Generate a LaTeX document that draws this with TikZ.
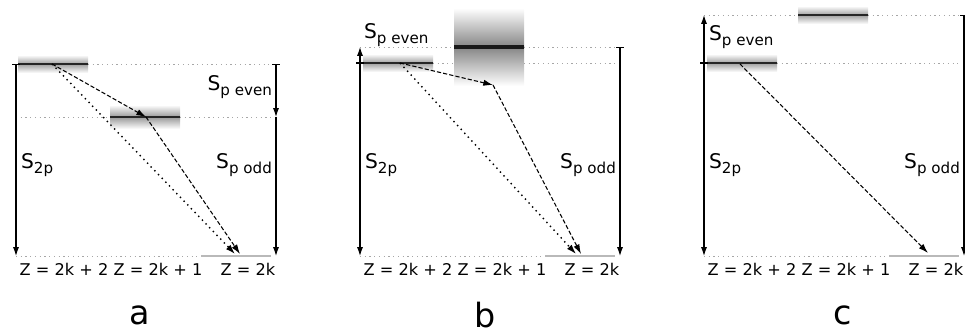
\documentclass[tikz,border=0pt]{standalone}
\usepackage{fontspec}
\setmainfont{DejaVu Sans}
\usepackage{tikz}
\usetikzlibrary{arrows.meta}
\newcommand{\Slbl}[1]{S\raisebox{-2.4pt}{\fontsize{8.6}{9}\selectfont #1}}
\newcommand{\lvlband}[5]{%
  \shade[top color=white, bottom color=gray!#5] (#1,#3-#4) rectangle (#2,#3);
  \shade[top color=gray!#5, bottom color=white] (#1,#3) rectangle (#2,#3+#4);
  \draw[line width=1pt, black!85] (#1,#3) -- (#2,#3);}

\begin{document}
\begin{tikzpicture}[x=0.02cm, y=-0.02cm,
  every node/.style={font=\fontsize{11.5}{13}\selectfont, inner sep=1pt},
  ax/.style={line width=0.6pt, -{Latex[length=5pt,width=3.4pt]}},
  axbar/.style={line width=0.6pt, {Bar[width=4.5pt]}-{Latex[length=5pt,width=3.4pt]}},
  guide/.style={gray!70, line width=0.5pt, dash pattern=on 0.7pt off 2pt},
  hop/.style={line width=0.6pt, dash pattern=on 2.4pt off 1.2pt, -{Latex[length=5.5pt,width=3.6pt]}},
  direct/.style={line width=0.8pt, dash pattern=on 0.8pt off 2.2pt, -{Latex[length=5.5pt,width=3.6pt]}},
  ground/.style={gray!55, line width=1.6pt},
  zlbl/.style={font=\fontsize{9.2}{11}\selectfont},
  panel/.style={font=\fontsize{19}{22}\selectfont}]
\useasboundingbox (0,0) rectangle (965,333);

% a
\begin{scope}
\draw[guide] (88,64) -- (276,64);
\draw[guide] (16,117) -- (110,117);
\draw[guide] (180,117) -- (276,117);
\draw[guide] (16,256) -- (201,256);
\lvlband{18}{88}{64}{9}{75}
\lvlband{110}{180}{117}{12}{80}
\draw[ground] (201,256) -- (271,256);
\coordinate (a-hi) at (52,64);
\coordinate (a-mid) at (146,117);
\coordinate (a-lo) at (240,254);
\coordinate (a-lo2) at (235,254);
\coordinate (a-l-top) at (16,64);
\coordinate (a-l-bot) at (16,256);
\coordinate (a-r-top) at (276,64);
\coordinate (a-r-mid) at (276,117);
\coordinate (a-r-bot) at (276,256);
\draw[axbar] (a-l-top) -- (a-l-bot);
\draw[axbar] (a-r-top) -- (a-r-mid);
\draw[ax] (a-r-mid) -- (a-r-bot);
\draw[hop] (a-hi) -- (a-mid);
\draw[hop] (a-mid) -- (a-lo);
\draw[direct] (a-hi) -- (a-lo2);
\node[anchor=west] (a-s2p) at (19,165) {\Slbl{2p}};
\node[anchor=east] (a-spe) at (274,87) {\Slbl{p even}};
\node[anchor=east] (a-spo) at (274,165) {\Slbl{p odd}};
\node[zlbl] (a-z2) at (64,269) {Z = 2k + 2};
\node[zlbl] (a-z1) at (158,269) {Z = 2k + 1};
\node[zlbl] (a-z0) at (248,269) {Z = 2k};
\node[panel] (a-name) at (140,315) {a};
\end{scope}

% b
\begin{scope}[shift={(344,0)}]
\draw[guide] (16,47) -- (110,47);
\draw[guide] (180,47) -- (276,47);
\draw[guide] (89,63) -- (110,63);
\draw[guide] (180,63) -- (274,63);
\draw[guide] (16,256) -- (201,256);
\lvlband{110}{180}{47}{39}{95}
\draw[line width=2pt, black!90] (110,47) -- (180,47);
\lvlband{19}{89}{63}{9}{75}
\draw[ground] (201,256) -- (271,256);
\coordinate (b-hi) at (56,63);
\coordinate (b-mid) at (149,85);
\coordinate (b-lo) at (237,254);
\coordinate (b-lo2) at (232,254);
\coordinate (b-l-top) at (16,47);
\coordinate (b-l-mid) at (16,63);
\coordinate (b-l-bot) at (16,256);
\coordinate (b-r-top) at (276,47);
\coordinate (b-r-bot) at (276,256);
\draw[axbar] (b-l-mid) -- (b-l-top);
\draw[axbar] (b-l-mid) -- (b-l-bot);
\draw[axbar] (b-r-top) -- (b-r-bot);
\draw[hop] (b-hi) -- (b-mid);
\draw[hop] (b-mid) -- (b-lo);
\draw[direct] (b-hi) -- (b-lo2);
\node[anchor=west] (b-spe) at (18,35) {\Slbl{p even}};
\node[anchor=west] (b-s2p) at (19,165) {\Slbl{2p}};
\node[anchor=east] (b-spo) at (274,165) {\Slbl{p odd}};
\node[zlbl] (b-z2) at (64,269) {Z = 2k + 2};
\node[zlbl] (b-z1) at (158,269) {Z = 2k + 1};
\node[zlbl] (b-z0) at (248,269) {Z = 2k};
\node[panel] (b-name) at (141,315) {b};
\end{scope}

% c
\begin{scope}[shift={(688,0)}]
\draw[guide] (16,15) -- (110,15);
\draw[guide] (180,15) -- (274,15);
\draw[guide] (89,63) -- (274,63);
\draw[guide] (16,256) -- (201,256);
\lvlband{110}{180}{15}{9}{75}
\lvlband{19}{89}{63}{9}{75}
\draw[ground] (201,256) -- (271,256);
\coordinate (c-hi) at (52,64);
\coordinate (c-lo) at (240,253);
\coordinate (c-l-top) at (16,15);
\coordinate (c-l-mid) at (16,63);
\coordinate (c-l-bot) at (16,256);
\coordinate (c-r-top) at (276,15);
\coordinate (c-r-bot) at (276,256);
\draw[axbar] (c-l-mid) -- (c-l-top);
\draw[axbar] (c-l-mid) -- (c-l-bot);
\draw[axbar] (c-r-top) -- (c-r-bot);
\draw[hop] (c-hi) -- (c-lo);
\node[anchor=west] (c-spe) at (19,37) {\Slbl{p even}};
\node[anchor=west] (c-s2p) at (19,165) {\Slbl{2p}};
\node[anchor=east] (c-spo) at (274,165) {\Slbl{p odd}};
\node[zlbl] (c-z2) at (64,269) {Z = 2k + 2};
\node[zlbl] (c-z1) at (158,269) {Z = 2k + 1};
\node[zlbl] (c-z0) at (248,269) {Z = 2k};
\node[panel] (c-name) at (155,315) {c};
\end{scope}
\end{tikzpicture}
\end{document}
